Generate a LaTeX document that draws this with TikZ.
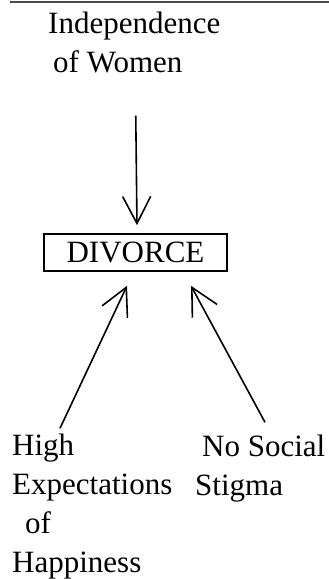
\documentclass[tikz,border=0pt]{standalone}
\usepackage{fontspec}
\setmainfont{Liberation Serif}
\usetikzlibrary{arrows.meta}

\begin{document}
\begin{tikzpicture}[x=1pt, y=-1pt,
    every node/.style={font=\fontsize{31}{39}\selectfont},
    label/.style={inner sep=0pt, align=left, anchor=base west},
    causebox/.style={draw, line width=1.6pt, minimum width=183pt, minimum height=37pt, inner sep=0pt},
    arr/.style={line width=1.6pt, -{Straight Barb[length=27pt, width=28pt, line width=1.6pt]}}]

\useasboundingbox (0,0) rectangle (329,579);

% Rule at top
\draw[line width=1.2pt, black!70] (10,2) -- (329,2);

% Factors and outcome (anchored at the baseline of the last line)
\node[label] (women) at (48,72) {Independence\\\hspace{5pt}of Women};
\node[causebox] (divorce) at (135.5,252.5) {DIVORCE};
\node[label] (hope) at (12,572) {High\\Expectations\\\hspace{13pt}of\\Happiness};
\node[label] (stigma) at (195,495) {\hspace{7pt}No Social\\Stigma};

% Arrows into DIVORCE
\draw[arr] ([xshift=1.5pt,yshift=-43pt]women.south) -- ([xshift=1.5pt,yshift=8pt]divorce.north);
\draw[arr] ([xshift=48pt,yshift=5pt]hope.north west) -- ([xshift=-8.5pt,yshift=-14pt]divorce.south);
\draw[arr] ([xshift=70pt,yshift=12pt]stigma.north west) -- ([xshift=55.5pt,yshift=-14pt]divorce.south);

\end{tikzpicture}
\end{document}
